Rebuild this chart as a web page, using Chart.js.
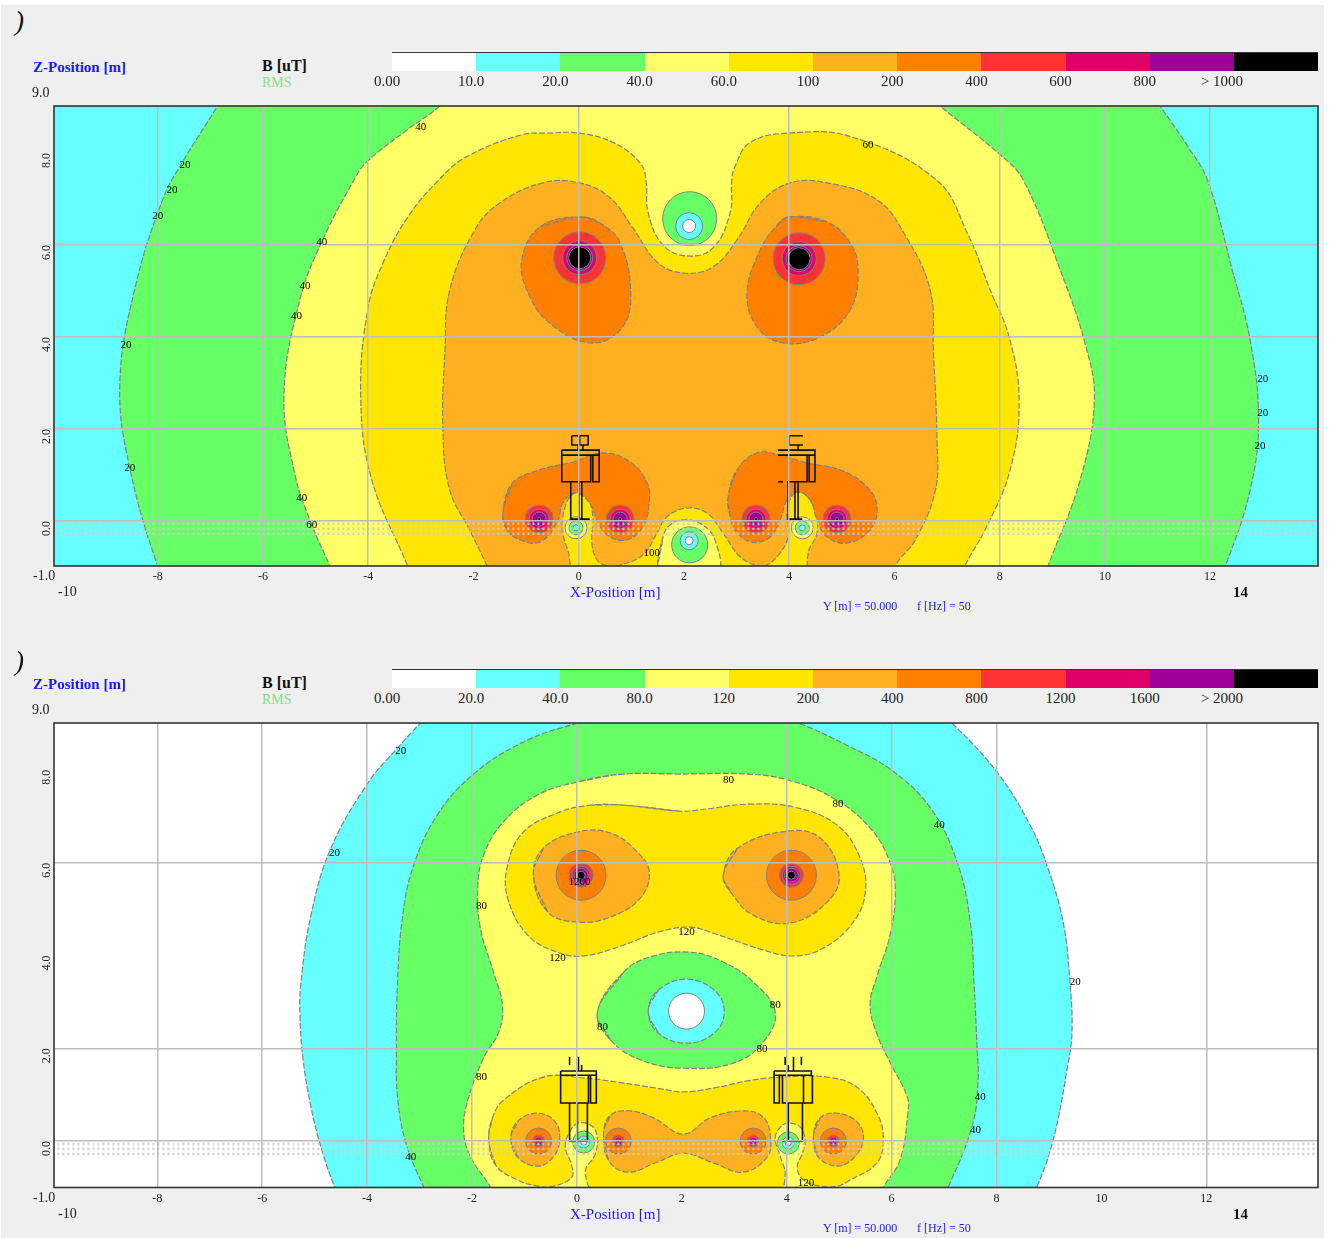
<!DOCTYPE html>
<html>
<head>
<meta charset="utf-8">
<title>B field RMS contours</title>
<script src="https://cdn.jsdelivr.net/npm/chart.js@4"></script>
<style>
  html, body { margin: 0; padding: 0; background: #fff; }
  body { width: 1330px; height: 1238px; position: relative; overflow: hidden; font-family: "Liberation Serif", serif; }
  #panel { position: absolute; left: 1px; top: 5px; width: 1323px; height: 1233px; background: #efefef; }
  canvas { position: absolute; left: 0; }
  .t { position: absolute; white-space: nowrap; transform: translateY(-50%); line-height: 1; color: #222; }
  .c { transform: translate(-50%, -50%); }
  .swatch { position: absolute; height: 18px; }
</style>
</head>
<body>
<div id="panel"></div>
<canvas id="topChart" width="1330" height="500" style="top:96px"></canvas>
<canvas id="botChart" width="1330" height="500" style="top:713px"></canvas>
<script>
// legend
const levelColors = ['#ffffff', '#66ffff', '#66ff66', '#ffff66', '#ffe600', '#ffb020', '#ff8000', '#ff3333', '#e0006a', '#a00099', '#000000'];
const topLevels = ['0.00', '10.0', '20.0', '40.0', '60.0', '100', '200', '400', '600', '800', '> 1000'];
const botLevels = ['0.00', '20.0', '40.0', '80.0', '120', '200', '400', '800', '1200', '1600', '> 2000'];
const [WHITE, CYAN, GREEN, PALE, YELLOW, AMBER, ORANGE, RED, MAGENTA, PURPLE, BLACK] = levelColors;

// axes
const xTicks = [-8, -6, -4, -2, 0, 2, 4, 6, 8, 10, 12];
const zTicks = [8, 6, 4, 2, 0];
const topGridX = [-8, -6, -4, 0, 4, 8, 10, 12];
const topGridZ = [6, 4, 2, 0];
const botGridX = [-8, -6, -4, -2, 0, 4, 6, 8, 12];
const botGridZ = [6, 2, 0];
const hatchZ = [-0.06, -0.17, -0.28];

// upper plot, contour outlines [x, z] in metres
const topGreen = [[-6.44,9.8],[-6.86,9.02],[-7.54,7.78],[-7.9,7.0],[-8.44,5.02],[-8.72,2.96],[-8.53,1.15],[-8.0,-0.98],[-7.6,-2],[11.9,-2],[12.29,-0.98],[12.76,0.67],[12.92,2.2],[12.76,3.93],[12.42,5.46],[11.95,7.41],[11.6,8.1],[11.05,9.02],[10.6,9.8]];
const topPale = [[-2.07,9.7],[-2.64,9.02],[-3.26,8.5],[-4.03,7.8],[-4.27,7.41],[-4.88,6.07],[-5.3,4.8],[-5.6,2.74],[-5.39,1.0],[-5.07,-0.09],[-4.73,-0.98],[-4.4,-2],[8.6,-2],[8.92,-0.98],[9.53,0.89],[9.8,2.63],[9.63,3.83],[9.15,5.46],[8.45,7.41],[8.01,7.96],[6.87,9.02],[6.2,9.7]];
const topYellow = [[-2.9,-2],[-3.25,-0.98],[-3.93,0.89],[-4.14,2.63],[-4.01,4.59],[-3.72,5.6],[-3.25,6.6],[-2.66,7.41],[-2.14,7.91],[-1.1,8.39],[-0.6,8.43],[0.01,8.43],[0.67,8.22],[1.17,7.78],[1.28,7.41],[1.32,6.7],[1.6,6.0],[2.06,5.76],[2.55,5.93],[2.88,6.7],[2.91,7.41],[2.97,7.7],[3.25,8.22],[3.98,8.43],[5.18,8.35],[6.8,7.41],[7.4,6.22],[7.82,5.02],[8.18,4.0],[8.37,2.63],[8.2,1.11],[7.72,-0.2],[7.34,-0.98],[7.0,-2]];
const topAmber = [[-1.5,-1.6],[-1.74,-0.98],[-2.07,-0.2],[-2.45,0.67],[-2.58,1.98],[-2.54,3.72],[-2.45,5.02],[-1.97,6.33],[-1.5,6.91],[-0.68,7.35],[0.02,7.35],[0.6,7.02],[1.03,6.37],[1.49,5.63],[1.98,5.39],[2.55,5.52],[3.01,6.11],[3.45,6.91],[4.02,7.35],[4.72,7.35],[5.67,6.98],[6.2,6.22],[6.68,5.02],[6.74,3.72],[6.81,1.76],[6.78,0.67],[6.4,-0.41],[6.02,-0.98],[5.9,-1.6],[4.43,-1.11],[4.36,-0.7],[4.53,-0.26],[4.49,0.24],[4.26,0.61],[4.07,0.57],[3.96,0.17],[3.98,-0.35],[3.77,-0.78],[3.54,-0.98],[3.41,-0.98],[3.07,-0.78],[2.74,-0.26],[2.44,0.17],[2.06,0.28],[1.68,0.09],[1.49,-0.26],[1.22,-0.74],[0.73,-0.98],[0.54,-0.98],[0.35,-0.85],[0.25,-0.48],[0.27,0.09],[0.16,0.5],[-0.07,0.61],[-0.26,0.3],[-0.3,-0.26],[-0.18,-0.78],[-0.22,-1.11]];
const topPaleBase = [[1.58,-1.11],[1.6,-0.35],[1.79,-0.04],[2.08,0.02],[2.36,-0.09],[2.59,-0.41],[2.63,-1.11]];
const topOrangeA = [[0.02,6.61],[-0.74,6.39],[-1.08,5.67],[-0.96,4.96],[-0.55,4.3],[0.21,3.87],[0.79,4.15],[0.99,4.87],[0.79,6.04],[0.4,6.48]];
const topOrangeB = [[4.01,6.61],[4.72,6.5],[5.16,6.04],[5.31,5.46],[5.16,4.59],[4.59,4.0],[3.88,3.87],[3.39,4.22],[3.2,4.96],[3.45,5.89],[3.77,6.43]];
const topOrangeC = [[-1.44,0.17],[-1.25,0.83],[-0.74,1.11],[-0.11,1.28],[0.46,1.48],[0.98,1.28],[1.3,0.83],[1.34,0.39],[1.22,-0.13],[0.92,-0.41],[0.6,-0.35],[0.37,-0.04],[0.21,0.39],[-0.07,0.61],[-0.3,0.39],[-0.41,-0.04],[-0.74,-0.46],[-1.12,-0.41],[-1.36,-0.2]];
const topOrangeD = [[2.84,0.52],[3.01,1.11],[3.39,1.48],[3.83,1.43],[4.34,1.26],[4.97,1.11],[5.48,0.74],[5.67,0.3],[5.54,-0.2],[5.1,-0.48],[4.72,-0.35],[4.53,0.02],[4.4,0.46],[4.17,0.63],[3.96,0.46],[3.83,0.02],[3.64,-0.35],[3.31,-0.46],[3.01,-0.26],[2.88,0.09]];

// upper plot, conductor positions
const topBundles = [[0.02,5.72],[4.19,5.7]];
const topLowSpots = [[-0.75,0.04],[0.79,0.04],[3.37,0.04],[4.91,0.04]];
const topMinimum = [[2.11,6.57]];
const topMinimumCore = [[2.1,6.41]];
const topBaseMinimum = [[2.11,-0.52]];
const topBaseMinimumCore = [[2.1,-0.43]];
const topFingerSpots = [[-0.05,-0.15],[4.25,-0.15]];

// upper plot, pylon outlines, null breaks the line
const topPylonA = [[-0.13,1.85],[0.18,1.85],[0.18,1.65],[-0.13,1.65],[-0.13,1.85],null,[0.02,1.85],[0.02,1.65],null,[-0.01,1.65],[-0.01,1.54],null,[0.08,1.65],[0.08,1.54],null,[-0.32,1.54],[0.39,1.54],[0.39,1.43],[-0.32,1.43],[-0.32,1.54],null,[-0.32,1.43],[-0.32,0.85],[0.23,0.85],[0.23,1.43],null,[0.27,1.43],[0.27,0.85],[0.39,0.85],[0.39,1.43],null,[-0.15,0.85],[-0.15,0.04],[0.21,0.04],null,[0.01,0.85],[0.01,0.04],null,[0.06,0.85],[0.06,0.04]];
const topPylonB = [[4.26,1.85],[4.0,1.85],[4.0,1.65],[4.26,1.65],null,[4.17,1.65],[4.17,1.54],null,[3.79,1.54],[4.49,1.54],[4.49,1.43],[3.79,1.43],null,[4.49,1.43],[4.49,0.85],[4.38,0.85],[4.38,1.43],null,[4.34,1.43],[4.34,0.85],[3.96,0.85],null,[3.79,0.85],[3.88,0.85],null,[3.98,0.85],[3.98,0.04],[4.25,0.04],null,[4.11,0.85],[4.11,0.04],null,[4.17,0.85],[4.17,0.04]];

// upper plot, numbers written along the contours
const topLabels = [['40',-3.0,8.57],['60',5.5,8.17],['20',-7.48,7.74],['20',-7.73,7.2],['20',-8.0,6.63],['40',-4.88,6.07],['40',-5.2,5.11],['40',-5.36,4.46],['20',-8.6,3.83],['20',-8.53,1.15],['40',-5.26,0.5],['60',-5.07,-0.09],['100',1.39,-0.7],['20',13.0,3.09],['20',13.0,2.35],['20',12.95,1.63]];

// lower plot, contour outlines
const botCyan = [[-2.5,9.5],[-2.98,9.01],[-3.42,8.47],[-3.97,7.74],[-4.69,6.31],[-5.07,4.87],[-5.26,3.43],[-5.28,2.72],[-5.22,1.75],[-5.07,0.73],[-4.88,-0.13],[-4.62,-0.99],[-4.41,-1.49],[8.54,-1.49],[8.77,-0.99],[9.08,0.02],[9.36,1.64],[9.44,2.35],[9.4,3.43],[9.27,4.72],[8.96,5.95],[8.64,6.81],[8.01,7.95],[7.15,9.01],[6.64,9.5]];
const botGreen = [[0.83,9.25],[0.01,9.01],[-1.02,8.6],[-1.99,7.89],[-2.66,7.03],[-3.11,5.95],[-3.32,4.87],[-3.42,3.43],[-3.44,2.0],[-3.42,0.95],[-3.26,-0.04],[-2.92,-0.99],[-2.69,-1.49],[6.83,-1.49],[7.08,-0.99],[7.54,0.34],[7.65,1.31],[7.63,2.0],[7.57,3.43],[7.5,4.72],[7.25,6.01],[6.74,7.18],[5.99,8.0],[5.15,8.53],[4.22,9.01],[3.5,9.25]];
const botPale = [[0.89,7.91],[0.01,7.74],[-0.75,7.46],[-1.4,6.88],[-1.78,6.16],[-1.89,5.45],[-1.84,4.59],[-1.59,3.64],[-1.42,2.93],[-1.49,2.35],[-1.78,1.79],[-2.08,0.88],[-2.16,0.24],[-2.03,-0.34],[-1.65,-0.99],[-1.46,-1.49],[5.59,-1.49],[5.84,-0.99],[6.16,-0.41],[6.31,0.6],[6.3,0.95],[5.97,1.7],[5.73,2.28],[5.59,2.93],[5.73,3.58],[5.97,4.44],[6.07,5.37],[5.97,6.01],[5.59,6.75],[4.89,7.39],[4.03,7.78],[3.25,7.91],[1.97,7.91]];
const botYellowUpper = [[0.89,7.24],[0.25,7.24],[-0.37,7.07],[-1.02,6.66],[-1.32,5.95],[-1.32,5.24],[-0.94,4.44],[-0.37,4.07],[0.13,3.99],[0.88,4.22],[1.54,4.5],[2.16,4.61],[2.6,4.48],[3.55,4.12],[4.13,3.99],[4.7,4.16],[5.27,4.72],[5.5,5.37],[5.4,6.1],[4.96,6.81],[4.13,7.2],[3.25,7.26],[2.49,7.16],[1.97,7.11]];
const botAmberA = [[-0.83,5.73],[-0.64,6.31],[0.01,6.66],[0.64,6.64],[1.15,6.23],[1.38,5.8],[1.21,5.24],[0.64,4.83],[0.01,4.72],[-0.56,4.94]];
const botAmberB = [[2.79,5.73],[3.06,6.31],[4.01,6.68],[4.64,6.53],[5.0,5.73],[4.77,5.15],[4.07,4.7],[3.36,4.87],[2.93,5.37]];
const botIslandGreen = [[0.39,2.78],[0.89,3.64],[1.4,3.97],[2.16,4.07],[2.79,3.86],[3.36,3.43],[3.78,2.78],[3.55,2.13],[2.98,1.68],[2.03,1.57],[1.21,1.75],[0.64,2.18]];
const botIslandCyan = [[1.36,2.8],[1.55,3.25],[2.09,3.49],[2.62,3.25],[2.81,2.8],[2.62,2.33],[2.09,2.11],[1.55,2.33]];
const botYellowLower = [[-1.68,0.02],[-1.61,0.5],[-1.4,0.88],[-0.64,1.38],[0.13,1.36],[0.77,1.27],[1.53,1.14],[2.03,1.06],[2.68,1.16],[3.31,1.31],[3.93,1.38],[4.77,1.38],[5.34,1.16],[5.74,0.56],[5.84,0.02],[5.72,-0.47],[5.21,-0.84],[4.96,-0.97],[4.64,-0.97],[4.32,-0.84],[4.2,-0.56],[4.3,-0.26],[4.35,0.02],[4.26,0.3],[4.03,0.39],[3.88,0.3],[3.78,0.06],[3.88,-0.34],[3.97,-0.73],[3.82,-1.12],[0.39,-1.12],[0.16,-0.67],[0.34,-0.3],[0.39,0.06],[0.29,0.32],[0.03,0.39],[-0.14,0.19],[-0.22,-0.13],[-0.1,-0.52],[-0.1,-0.78],[-0.44,-0.97],[-0.75,-0.97],[-1.13,-0.84],[-1.55,-0.52]];
const botAmberC = [[-1.26,0.06],[-1.11,0.45],[-0.73,0.6],[-0.41,0.41],[-0.33,0.02],[-0.45,-0.34],[-0.73,-0.54],[-1.11,-0.37]];
const botAmberD = [[0.51,0.17],[0.64,0.56],[1.02,0.65],[1.46,0.5],[2.03,0.15],[2.54,0.5],[3.17,0.65],[3.55,0.52],[3.69,0.09],[3.63,-0.34],[3.17,-0.67],[2.6,-0.47],[2.03,-0.26],[1.54,-0.45],[0.96,-0.67],[0.6,-0.41]];
const botAmberE = [[4.51,0.09],[4.64,0.5],[4.98,0.6],[5.36,0.39],[5.46,0.02],[5.27,-0.37],[4.96,-0.54],[4.6,-0.34]];

// lower plot, conductor positions
const botBundles = [[0.08,5.73],[4.09,5.73]];
const botLowSpots = [[-0.73,0],[0.79,0],[3.36,0],[4.89,0]];
const botFingerSpots = [[0.13,-0.02],[4.03,-0.04]];
const botIslandCore = [[2.09,2.8]];

// lower plot, pylon outlines
const botPylonA = [[-0.14,1.81],[-0.14,1.64],null,[0.03,1.81],[0.03,1.51],null,[0.09,1.64],[0.09,1.51],null,[-0.31,1.51],[0.37,1.51],[0.37,1.42],[-0.31,1.42],[-0.31,1.51],null,[-0.31,1.42],[-0.31,0.82],[0.22,0.82],[0.22,1.42],null,[0.26,1.42],[0.26,0.82],[0.37,0.82],[0.37,1.42],null,[-0.14,0.82],[-0.14,0],[0.2,0],[0.2,0.82],null,[0.01,0.82],[0.01,0]];
const botPylonB = [[3.97,1.81],[3.97,1.64],null,[4.13,1.81],[4.13,1.51],null,[4.28,1.81],[4.28,1.64],null,[4.03,1.64],[4.03,1.51],null,[3.76,1.51],[4.47,1.51],[4.47,1.42],[3.76,1.42],[3.76,1.51],null,[3.76,1.42],[3.76,0.82],[3.86,0.82],[3.86,1.42],null,[3.92,1.42],[3.92,0.82],[4.49,0.82],[4.49,1.42],null,[4.32,1.42],[4.32,0.82],null,[4.3,0.82],[4.3,0],[3.92,0],null,[4.03,0.82],[4.03,0]];

const botLabels = [['20',-3.36,8.41],['20',-4.62,6.21],['80',-1.82,5.06],['1200',0.05,5.58],['120',-0.37,3.94],['120',2.09,4.5],['80',2.89,7.78],['80',4.98,7.26],['40',6.91,6.81],['80',3.78,2.93],['80',0.49,2.46],['80',3.53,1.98],['80',-1.82,1.38],['20',9.5,3.43],['40',7.69,0.95],['40',7.6,0.24],['40',-3.17,-0.34],['120',4.37,-0.91]];

const LINE = '#808080';
const pts = a => a.map(p => p ? { x: p[0], y: p[1] } : { x: null, y: null });

function contour(outline, color) {
  // retrace one vertex at each end so the spline stays smooth where the ring closes
  const n = outline.length;
  return {
    data: pts([outline[n - 1], ...outline, outline[0], outline[1]]),
    showLine: true, fill: 'shape', tension: 0.4,
    backgroundColor: color, borderColor: LINE, borderWidth: 1.2, borderDash: [6, 2],
    pointRadius: 0
  };
}

function spots(points, color, radius) {
  return {
    data: pts(points), showLine: false,
    pointRadius: radius, pointBackgroundColor: color,
    pointBorderColor: LINE, pointBorderWidth: 1
  };
}

function outline(lines) {
  return { data: pts(lines), showLine: true, fill: false, tension: 0, spanGaps: false, borderColor: '#111', borderWidth: 1.6, pointRadius: 0 };
}

function hatch(xMin, xMax) {
  return hatchZ.map(z => ({
    data: pts([[xMin, z], [xMax, z]]), showLine: true, fill: false, tension: 0,
    borderColor: 'rgba(205,205,205,0.9)', borderWidth: 2.5, borderDash: [2, 3], pointRadius: 0
  }));
}

const noPadding = s => { s.paddingLeft = s.paddingRight = s.paddingTop = s.paddingBottom = 0; };

function makeChart(id, cfg) {
  // first dataset is drawn last in Chart.js, so flip the painter's order
  new Chart(document.getElementById(id), {
    type: 'scatter',
    data: { datasets: cfg.layers.slice().reverse() },
    options: {
      responsive: false, animation: false, events: [],
      layout: { autoPadding: false, padding: { top: 10, left: 24, right: 12, bottom: 0 } },
      elements: { line: { capBezierPoints: false } },
      plugins: { legend: { display: false }, tooltip: { enabled: false } },
      scales: {
        x: {
          type: 'linear', min: cfg.xRange[0], max: cfg.xRange[1],
          afterBuildTicks: s => { s.ticks = xTicks.map(v => ({ value: v })); },
          afterFit: s => { s.height = cfg.xHeight; noPadding(s); },
          border: { display: false },
          grid: { z: 1, drawTicks: false, lineWidth: 1.5, color: c => cfg.gridX.includes(c.tick.value) ? '#bdbdbd' : 'transparent' },
          ticks: { autoSkip: false, maxRotation: 0, padding: 4, color: '#222', font: { family: 'Liberation Serif', size: 12 }, callback: v => String(v) }
        },
        y: {
          type: 'linear', min: cfg.zRange[0], max: cfg.zRange[1],
          afterBuildTicks: s => { s.ticks = zTicks.map(v => ({ value: v })); },
          afterFit: s => { s.width = 30; noPadding(s); },
          border: { display: false },
          grid: { z: 1, drawTicks: false, lineWidth: 1.5, color: c => cfg.gridZ.includes(c.tick.value) ? '#bdbdbd' : 'transparent' },
          ticks: { autoSkip: false, minRotation: 90, maxRotation: 90, padding: 7, color: '#222', font: { family: 'Liberation Serif', size: 12 }, callback: v => v.toFixed(1) }
        }
      }
    },
    plugins: [{
      id: 'plotFrame',
      beforeDatasetsDraw(chart) {
        const a = chart.chartArea;
        chart.ctx.fillStyle = cfg.background;
        chart.ctx.fillRect(a.left, a.top, a.width, a.height);
      },
      afterDraw(chart) {
        const ctx = chart.ctx, a = chart.chartArea;
        ctx.save();
        ctx.font = '11px "Liberation Serif"';
        ctx.fillStyle = '#000';
        ctx.textAlign = 'center';
        ctx.textBaseline = 'middle';
        cfg.labels.forEach(([text, x, z]) => {
          ctx.fillText(text, chart.scales.x.getPixelForValue(x), chart.scales.y.getPixelForValue(z));
        });
        ctx.strokeStyle = '#333';
        ctx.lineWidth = 1.6;
        ctx.strokeRect(a.left, a.top, a.width, a.height);
        ctx.restore();
      }
    }]
  });
}

const topLayers = [
  contour(topGreen, GREEN), contour(topPale, PALE), contour(topYellow, YELLOW), contour(topAmber, AMBER),
  contour(topPaleBase, PALE),
  contour(topOrangeA, ORANGE), contour(topOrangeB, ORANGE), contour(topOrangeC, ORANGE), contour(topOrangeD, ORANGE),
  spots(topBundles, RED, 26), spots(topBundles, MAGENTA, 17), spots(topBundles, PURPLE, 13), spots(topBundles, BLACK, 11),
  spots(topLowSpots, RED, 14), spots(topLowSpots, MAGENTA, 10), spots(topLowSpots, PURPLE, 7), spots(topLowSpots, BLACK, 1.5),
  spots(topMinimum, GREEN, 27), spots(topMinimumCore, CYAN, 13.5), spots(topMinimumCore, WHITE, 6.5),
  spots(topBaseMinimum, GREEN, 18), spots(topBaseMinimumCore, CYAN, 9), spots(topBaseMinimumCore, WHITE, 4),
  spots(topFingerSpots, PALE, 11), spots(topFingerSpots, GREEN, 7), spots(topFingerSpots, CYAN, 3),
  ...hatch(-10, 14.05),
  outline(topPylonA), outline(topPylonB)
];

const botLayers = [
  contour(botCyan, CYAN), contour(botGreen, GREEN), contour(botPale, PALE),
  contour(botYellowUpper, YELLOW), contour(botAmberA, AMBER), contour(botAmberB, AMBER),
  contour(botIslandGreen, GREEN), contour(botIslandCyan, CYAN), spots(botIslandCore, WHITE, 18),
  contour(botYellowLower, YELLOW), contour(botAmberC, AMBER), contour(botAmberD, AMBER), contour(botAmberE, AMBER),
  spots(botBundles, ORANGE, 25), spots(botBundles, RED, 12), spots(botBundles, MAGENTA, 9), spots(botBundles, PURPLE, 7), spots(botBundles, BLACK, 4),
  spots(botLowSpots, ORANGE, 13), spots(botLowSpots, RED, 6), spots(botLowSpots, MAGENTA, 4), spots(botLowSpots, BLACK, 1.5),
  spots(botFingerSpots, GREEN, 11), spots(botFingerSpots, CYAN, 6), spots(botFingerSpots, WHITE, 3),
  ...hatch(-10, 14.2),
  outline(botPylonA), outline(botPylonB)
];

makeChart('topChart', {
  layers: topLayers, labels: topLabels, background: CYAN,
  xRange: [-9.97, 14.05], zRange: [-0.98, 9.02], xHeight: 30,
  gridX: topGridX, gridZ: topGridZ
});
makeChart('botChart', {
  layers: botLayers, labels: botLabels, background: WHITE,
  xRange: [-9.97, 14.13], zRange: [-1, 9.01], xHeight: 25.5,
  gridX: botGridX, gridZ: botGridZ
});

// header and footer texts around each plot
function addText(text, x, y, css, centred) {
  const el = document.createElement('div');
  el.className = centred ? 't c' : 't';
  el.textContent = text;
  el.style.left = x + 'px';
  el.style.top = y + 'px';
  el.style.cssText += css || '';
  document.body.appendChild(el);
}

const BLUE = 'color:#1818ff;';
function addHeader(dy, levels, pos) {
  addText(')', 15, pos.paren, 'font-size:27px;font-style:italic;color:#111;');
  addText('Z-Position [m]', 33, 67 + dy, BLUE + 'font-size:15px;font-weight:bold;');
  addText('B [uT]', 262, 66 + dy, 'font-size:16px;font-weight:bold;color:#111;');
  addText('RMS', 262, 83 + dy, 'font-size:14px;color:#84e084;');
  addText('9.0', 32, pos.top, 'font-size:14px;');
  addText('-1.0', 33, pos.bottom, 'font-size:14px;');
  addText('-10', 58, pos.axis, 'font-size:14px;');
  addText('14', 1233, pos.axis, 'font-size:15px;font-weight:bold;color:#111;');
  addText('X-Position [m]', 570, pos.axis, BLUE + 'font-size:15px;');
  addText('Y [m] = 50.000', 823, pos.info, BLUE + 'font-size:12px;');
  addText('f [Hz] = 50', 917, pos.info, BLUE + 'font-size:12px;');
  // colour bar
  const bar = document.createElement('div');
  bar.style.cssText = 'position:absolute;left:392px;width:926px;height:2px;background:#333;top:' + (52 + dy) + 'px';
  document.body.appendChild(bar);
  levelColors.forEach((c, i) => {
    const s = document.createElement('div');
    s.className = 'swatch';
    s.style.cssText = 'left:' + (392 + i * 84.2) + 'px;width:84.4px;top:' + (53 + dy) + 'px;background:' + c;
    document.body.appendChild(s);
    addText(levels[i], i === 10 ? 1222 : 387 + i * 84.2, 81 + dy, 'font-size:15px;', true);
  });
}

addHeader(0, topLevels, { paren: 21, top: 93, bottom: 576, axis: 592, info: 606 });
addHeader(617, botLevels, { paren: 661, top: 710, bottom: 1198, axis: 1214, info: 1228 });
</script>
</body>
</html>
